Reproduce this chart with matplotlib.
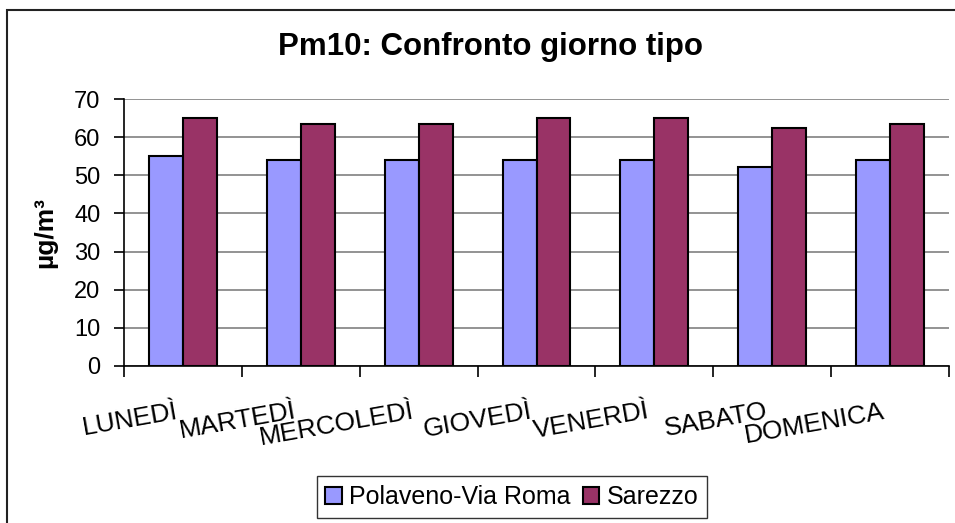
import numpy as np
import matplotlib
matplotlib.use('Agg')
import matplotlib.pyplot as plt
from matplotlib.patches import Rectangle

plt.rcParams['font.family'] = ['Liberation Sans', 'DejaVu Sans']

days = ['LUNEDÌ', 'MARTEDÌ', 'MERCOLEDÌ', 'GIOVEDÌ', 'VENERDÌ', 'SABATO', 'DOMENICA']
polaveno = [55, 54, 54, 54, 54, 52.3, 54]
sarezzo = [64.9, 63.5, 63.5, 64.9, 64.9, 62.3, 63.5]
series_names = ['Polaveno-Via Roma', 'Sarezzo']
colors = ['#9999FF', '#993366']
yticks = [0, 10, 20, 30, 40, 50, 60, 70]

W, H = 955, 523
fig = plt.figure(figsize=(W / 100, H / 100), dpi=100)
ax = fig.add_axes([124 / W, 1 - 366 / H, (949 - 124) / W, (366 - 99) / H])

x = np.arange(len(days))
bw = 0.288
ax.bar(x - bw / 2, polaveno, bw, color=colors[0], edgecolor='black', linewidth=1.5,
       label=series_names[0], zorder=3)
ax.bar(x + bw / 2, sarezzo, bw, color=colors[1], edgecolor='black', linewidth=1.5,
       label=series_names[1], zorder=3)

ax.set_xlim(-0.5, len(days) - 0.5)
ax.set_ylim(0, 70)
ax.set_yticks(yticks)
ax.yaxis.grid(True, color='#808080', linewidth=1.2, zorder=0)
ax.set_xticks(np.arange(len(days) + 1) - 0.5)
ax.set_xticklabels([])
ax.tick_params(axis='x', length=8, width=1.2, direction='out')
ax.tick_params(axis='y', length=7, width=1.2, direction='out', labelsize=17, pad=10)
for s in ['top', 'right']:
    ax.spines[s].set_visible(False)
ax.spines['left'].set_linewidth(1.2)
ax.spines['bottom'].set_linewidth(1.2)

# rotated category labels, right end anchored under each category
for i, d in enumerate(days):
    ax.annotate(d, xy=(i, 0), xycoords=('data', 'axes fraction'),
                xytext=(-4, -52), textcoords='offset pixels',
                ha='right', va='baseline', rotation=10, rotation_mode='anchor',
                fontsize=19)

ax.set_ylabel('µg/m³', fontsize=19, fontweight='bold')
ax.yaxis.set_label_coords((57 - 124) / 825, 0.5)

fig.text(490.5 / W, 1 - 55 / H, 'Pm10: Confronto giorno tipo', ha='center',
         va='baseline', fontsize=22.5, fontweight='bold')

leg = fig.legend(loc='center', bbox_to_anchor=(512 / W, 1 - 497 / H), ncol=2,
                 fontsize=18, frameon=True, fancybox=False, handlelength=0.65,
                 handleheight=0.65, handletextpad=0.3, columnspacing=0.5,
                 borderpad=0.35, borderaxespad=0)
leg.get_frame().set_edgecolor('black')
leg.get_frame().set_linewidth(1.0)

# outer chart border (right/bottom edges fall outside the picture)
fig.patches.append(Rectangle((7 / W, -0.1), 1.2, 1 - 10 / H + 0.1,
                             transform=fig.transFigure, fill=False,
                             edgecolor='#222222', linewidth=1.5))

fig.savefig('out.png', dpi=100)
